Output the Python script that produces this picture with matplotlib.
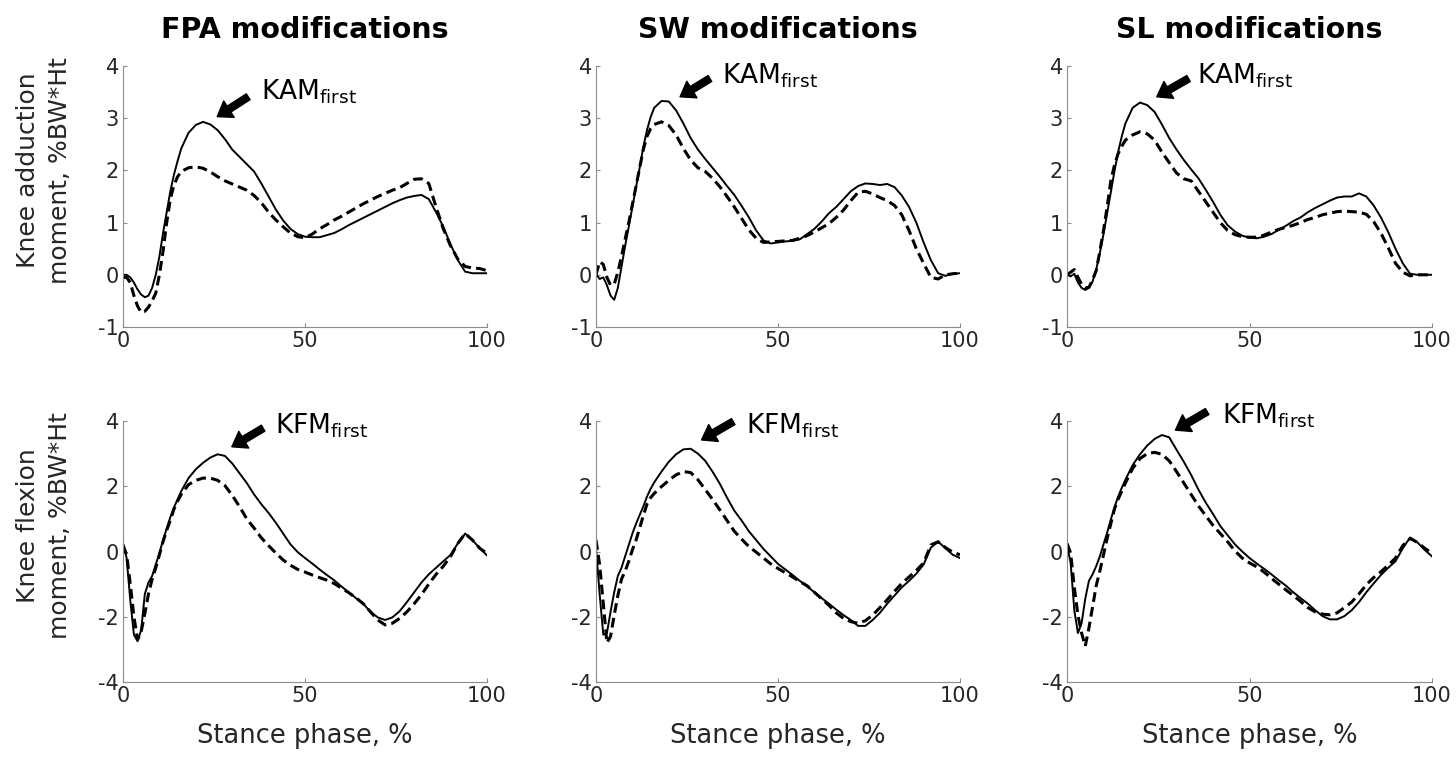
import numpy as np
import matplotlib.pyplot as plt

plt.rcParams['axes.unicode_minus'] = False

# stance phase grid (%)
x = [0, 1, 2, 3, 4, 5, 6, 7, 8, 9, 10, 11, 12, 13, 14, 15, 16, 18, 20, 22, 24, 26, 28, 30,
     32, 34, 36, 38, 40, 42, 44, 46, 48, 50, 52, 54, 56, 58, 60, 62, 64, 66, 68, 70, 72, 74,
     76, 78, 80, 82, 84, 86, 88, 90, 92, 94, 96, 98, 100]

# knee adduction moment (%BW*Ht)
fpa_kam_solid = [0.0, 0.0, -0.05, -0.15, -0.28, -0.38, -0.43, -0.4, -0.25, 0.0, 0.35, 0.8, 1.2, 1.6, 1.92,
                 2.18, 2.42, 2.72, 2.87, 2.93, 2.88, 2.77, 2.6, 2.4, 2.26, 2.12, 1.98, 1.75, 1.5, 1.25,
                 1.04, 0.88, 0.78, 0.73, 0.72, 0.72, 0.76, 0.8, 0.87, 0.95, 1.02, 1.09, 1.16, 1.23,
                 1.3, 1.37, 1.43, 1.48, 1.51, 1.53, 1.45, 1.2, 0.92, 0.58, 0.28, 0.06, 0.03, 0.03, 0.03]
fpa_kam_dash = [-0.05, -0.05, -0.15, -0.4, -0.6, -0.72, -0.7, -0.62, -0.5, -0.35, 0.0, 0.45, 1.0, 1.45,
                1.72, 1.88, 1.98, 2.05, 2.07, 2.04, 1.97, 1.88, 1.8, 1.74, 1.68, 1.62, 1.52, 1.38, 1.2,
                1.05, 0.92, 0.8, 0.73, 0.71, 0.78, 0.88, 0.96, 1.05, 1.12, 1.2, 1.28, 1.36, 1.43, 1.5,
                1.56, 1.62, 1.67, 1.75, 1.83, 1.84, 1.75, 1.3, 0.88, 0.55, 0.3, 0.16, 0.13, 0.12, 0.08]
sw_kam_solid = [0.02, -0.08, -0.05, -0.2, -0.4, -0.48, -0.25, 0.15, 0.55, 0.92, 1.3, 1.68, 2.05, 2.45,
                2.77, 3.02, 3.2, 3.33, 3.32, 3.15, 2.9, 2.62, 2.4, 2.22, 2.05, 1.88, 1.7, 1.53, 1.32,
                1.1, 0.85, 0.66, 0.6, 0.62, 0.64, 0.65, 0.68, 0.78, 0.88, 1.02, 1.18, 1.3, 1.45, 1.6,
                1.7, 1.75, 1.74, 1.72, 1.74, 1.68, 1.52, 1.3, 1.0, 0.62, 0.28, 0.03, -0.02, 0.02, 0.03]
sw_kam_dash = [0.0, 0.25, 0.2, -0.05, -0.2, -0.18, 0.05, 0.35, 0.68, 1.0, 1.35, 1.7, 2.05, 2.4, 2.65,
               2.8, 2.88, 2.93, 2.86, 2.68, 2.42, 2.2, 2.05, 1.98, 1.85, 1.69, 1.5, 1.3, 1.08, 0.86,
               0.7, 0.62, 0.63, 0.64, 0.65, 0.66, 0.7, 0.75, 0.82, 0.9, 0.98, 1.1, 1.24, 1.42, 1.58,
               1.6, 1.55, 1.48, 1.42, 1.33, 1.15, 0.85, 0.5, 0.22, -0.05, -0.08, 0.0, 0.02, 0.03]
sl_kam_solid = [0.0, -0.03, 0.02, -0.15, -0.25, -0.29, -0.25, -0.13, 0.1, 0.42, 0.78, 1.18, 1.58, 1.98,
                2.35, 2.65, 2.9, 3.2, 3.3, 3.25, 3.12, 2.88, 2.62, 2.4, 2.2, 2.02, 1.85, 1.63, 1.4,
                1.15, 0.95, 0.83, 0.75, 0.71, 0.7, 0.73, 0.78, 0.86, 0.94, 1.03, 1.1, 1.2, 1.28, 1.35,
                1.42, 1.48, 1.5, 1.5, 1.56, 1.5, 1.33, 1.1, 0.82, 0.5, 0.22, 0.02, 0.0, 0.0, 0.0]
sl_kam_dash = [0.0, 0.05, 0.1, -0.05, -0.18, -0.25, -0.24, -0.1, 0.08, 0.45, 0.85, 1.3, 1.8, 2.1, 2.32,
               2.46, 2.58, 2.68, 2.74, 2.7, 2.58, 2.35, 2.15, 1.95, 1.84, 1.8, 1.6, 1.4, 1.2, 1.0,
               0.85, 0.77, 0.73, 0.72, 0.72, 0.76, 0.82, 0.87, 0.91, 0.95, 1.0, 1.06, 1.1, 1.15, 1.18,
               1.21, 1.22, 1.21, 1.2, 1.16, 1.02, 0.8, 0.52, 0.22, 0.05, -0.02, 0.0, 0.0, 0.0]

# knee flexion moment (%BW*Ht)
fpa_kfm_solid = [0.25, -0.2, -1.5, -2.55, -2.75, -2.4, -1.3, -0.95, -0.75, -0.4, -0.05, 0.35, 0.7, 1.05,
                 1.35, 1.6, 1.85, 2.25, 2.52, 2.72, 2.88, 2.98, 2.93, 2.7, 2.4, 2.1, 1.75, 1.45, 1.18,
                 0.88, 0.55, 0.22, -0.02, -0.2, -0.37, -0.55, -0.72, -0.88, -1.07, -1.25, -1.43, -1.6,
                 -1.85, -2.02, -2.1, -2.02, -1.83, -1.55, -1.25, -0.95, -0.7, -0.5, -0.3, -0.1, 0.25,
                 0.55, 0.35, 0.1, -0.12]
fpa_kfm_dash = [0.2, -0.1, -1.0, -2.0, -2.7, -2.45, -1.9, -1.3, -0.85, -0.5, -0.1, 0.3, 0.65, 0.95, 1.3,
                1.55, 1.75, 2.05, 2.18, 2.25, 2.25, 2.18, 2.02, 1.72, 1.38, 1.0, 0.72, 0.42, 0.18, -0.05,
                -0.26, -0.42, -0.55, -0.63, -0.72, -0.8, -0.88, -0.98, -1.12, -1.26, -1.42, -1.6, -1.85,
                -2.1, -2.25, -2.2, -2.05, -1.85, -1.6, -1.32, -1.0, -0.7, -0.45, -0.15, 0.25, 0.55,
                0.35, 0.1, -0.06]
sw_kfm_solid = [0.1, -1.3, -2.55, -2.5, -1.85, -1.25, -0.75, -0.5, -0.15, 0.2, 0.55, 0.85, 1.12, 1.38,
                1.68, 1.92, 2.12, 2.45, 2.75, 2.98, 3.13, 3.15, 3.0, 2.78, 2.45, 2.08, 1.65, 1.25, 0.95,
                0.62, 0.35, 0.08, -0.15, -0.38, -0.55, -0.72, -0.9, -1.07, -1.25, -1.43, -1.6, -1.78,
                -1.95, -2.1, -2.28, -2.28, -2.1, -1.88, -1.6, -1.35, -1.1, -0.9, -0.68, -0.4, 0.12,
                0.3, 0.1, -0.1, -0.2]
sw_kfm_dash = [0.35, -0.4, -1.6, -2.8, -2.6, -1.95, -1.35, -0.85, -0.6, -0.3, 0.05, 0.35, 0.72, 1.1,
               1.45, 1.65, 1.78, 1.99, 2.18, 2.35, 2.45, 2.42, 2.2, 1.9, 1.6, 1.28, 0.95, 0.62, 0.38,
               0.15, -0.02, -0.2, -0.38, -0.52, -0.65, -0.78, -0.92, -1.05, -1.25, -1.45, -1.65, -1.88,
               -2.05, -2.15, -2.2, -2.12, -1.95, -1.72, -1.48, -1.22, -0.98, -0.78, -0.58, -0.35, 0.2,
               0.3, 0.12, -0.02, -0.1]
sl_kfm_solid = [0.2, -0.35, -1.8, -2.5, -2.2, -1.45, -0.9, -0.7, -0.45, -0.15, 0.22, 0.58, 0.98, 1.35,
                1.68, 1.95, 2.2, 2.65, 2.98, 3.25, 3.45, 3.57, 3.5, 3.12, 2.75, 2.35, 1.9, 1.5, 1.15,
                0.78, 0.5, 0.22, 0.0, -0.2, -0.37, -0.53, -0.7, -0.88, -1.05, -1.25, -1.43, -1.6, -1.8,
                -1.98, -2.08, -2.08, -1.98, -1.8, -1.55, -1.25, -0.98, -0.72, -0.5, -0.3, 0.1, 0.43,
                0.28, 0.05, -0.15]
sl_kfm_dash = [0.25, -0.05, -1.1, -1.95, -2.5, -2.9, -2.35, -1.7, -1.05, -0.6, -0.1, 0.4, 0.85, 1.3,
               1.6, 1.85, 2.1, 2.55, 2.85, 3.0, 3.04, 2.98, 2.78, 2.45, 2.1, 1.75, 1.4, 1.1, 0.8, 0.55,
               0.3, 0.02, -0.2, -0.35, -0.47, -0.63, -0.82, -1.0, -1.18, -1.35, -1.53, -1.72, -1.85,
               -1.92, -1.94, -1.88, -1.72, -1.55, -1.3, -1.02, -0.8, -0.62, -0.42, -0.2, 0.18, 0.4,
               0.28, 0.1, -0.06]

titles = ['FPA modifications', 'SW modifications', 'SL modifications']
row_labels = ['Knee adduction\nmoment, %BW*Ht', 'Knee flexion\nmoment, %BW*Ht']
peak_labels = ['KAM$_{\\mathrm{first}}$', 'KFM$_{\\mathrm{first}}$']

solid = [[fpa_kam_solid, sw_kam_solid, sl_kam_solid], [fpa_kfm_solid, sw_kfm_solid, sl_kfm_solid]]
dash = [[fpa_kam_dash, sw_kam_dash, sl_kam_dash], [fpa_kfm_dash, sw_kfm_dash, sl_kfm_dash]]

# arrow tip, arrow tail, text position (data coords) for each panel
arrows = [[((25.9, 3.03), (34.4, 3.41), (37.8, 3.35)),
           ((23.1, 3.41), (31.3, 3.76), (34.5, 3.67)),
           ((24.6, 3.41), (33.3, 3.76), (35.6, 3.67))],
          [((29.9, 3.21), (38.5, 3.78), (41.8, 3.62)),
           ((29.0, 3.42), (37.7, 3.98), (41.1, 3.62)),
           ((29.7, 3.72), (38.4, 4.29), (42.5, 3.93))]]

W, H = 1456, 760
fig = plt.figure(figsize=(W / 100, H / 100), dpi=100)

lefts = [123, 596, 1067]
widths = [364, 364, 365]
tops = [66, 421]
height = 261

grey = '#8c8c8c'
txt = '#262626'

for r in range(2):
    for c in range(3):
        ax = fig.add_axes([lefts[c] / W, 1 - (tops[r] + height) / H, widths[c] / W, height / H])
        ax.plot(x, solid[r][c], color='black', lw=1.4)
        ax.plot(x, dash[r][c], color='black', lw=2.2, dashes=(3.2, 1.7))
        ax.set_xlim(0, 100)
        if r == 0:
            ax.set_ylim(-1, 4)
            ax.set_yticks([-1, 0, 1, 2, 3, 4])
        else:
            ax.set_ylim(-4, 4)
            ax.set_yticks([-4, -2, 0, 2, 4])
        ax.set_xticks([0, 50, 100])
        for s in ['top', 'right']:
            ax.spines[s].set_visible(False)
        for s in ['left', 'bottom']:
            ax.spines[s].set_color(grey)
            ax.spines[s].set_linewidth(0.8)
        ax.tick_params(direction='in', length=3, color=grey, labelsize=15, labelcolor=txt, pad=3)
        ax.patch.set_alpha(0)

        tip, tail, tpos = arrows[r][c]
        ax.annotate('', xy=tip, xytext=tail, annotation_clip=False,
                    arrowprops=dict(facecolor='black', edgecolor='black', width=5,
                                    headwidth=14, headlength=10, shrink=0))
        ax.text(tpos[0], tpos[1], peak_labels[r], fontsize=19, color='black',
                va='baseline', ha='left', clip_on=False)

        if r == 0:
            ax.set_title(titles[c], fontsize=20.5, fontweight='bold', pad=20)
        else:
            ax.set_xlabel('Stance phase, %', fontsize=18.5, color=txt, labelpad=12)

for r in range(2):
    yc = 1 - (tops[r] + height / 2 - 26) / H
    fig.text(44 / W, yc, row_labels[r], rotation=90, ha='center', va='center',
             fontsize=18, color=txt, linespacing=1.4)

fig.savefig('out.png', dpi=100)
